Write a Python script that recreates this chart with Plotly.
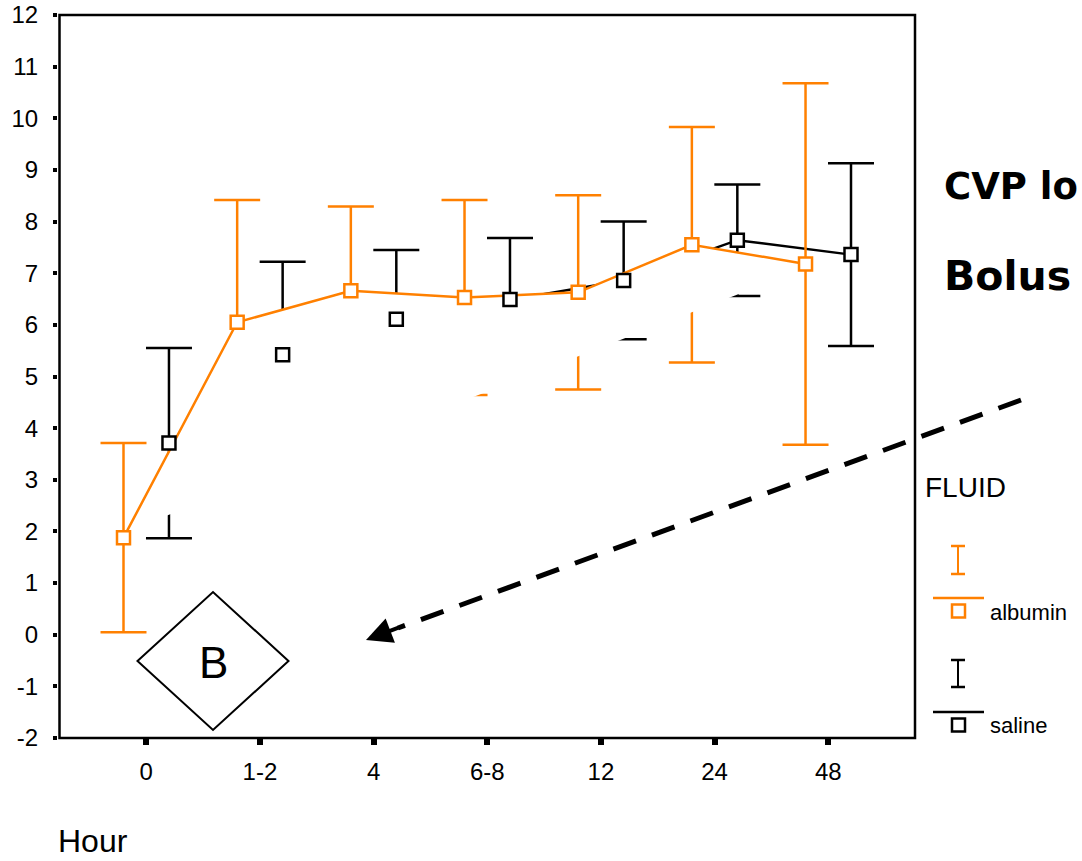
import numpy as np
import plotly.graph_objects as go

# ---------------- data ----------------
hours = ["0", "1-2", "4", "6-8", "12", "24", "48"]
albumin_mean = [1.88, 6.05, 6.66, 6.53, 6.63, 7.55, 7.18]
albumin_err = [1.83, 2.37, 1.63, 1.89, 1.88, 2.28, 3.50]
saline_mean = [3.71, 5.42, 6.11, 6.49, 6.86, 7.64, 7.36]
saline_err = [1.84, 1.80, 1.34, 1.19, 1.14, 1.08, 1.77]
y_ticks = list(range(-2, 13))
y_tick_labels = [str(v) for v in y_ticks]

# ---------------- styling / geometry ----------------
ORANGE = "#FF8000"
FONT = "Liberation Sans, Arial, sans-serif"
W, H = 1082, 861
ML, MR, MT, MB = 57, 167, 15, 123
PW = W - ML - MR
PH = H - MT - MB


def px(x):
    return (x - ML) / PW


def py(y):
    return (H - MB - y) / PH


idx = np.arange(len(hours))
x_alb = idx - 0.2
x_sal = idx + 0.2
alb = np.array(albumin_mean)

# white masking region (below the albumin line, above a straight edge)
MASK_P0 = (2.894, 4.62)
MASK_P1 = (5.192, 6.58)


def line_y(x):
    return MASK_P0[1] + (np.asarray(x) - MASK_P0[0]) * (MASK_P1[1] - MASK_P0[1]) / (MASK_P1[0] - MASK_P0[0])


d = alb - line_y(x_alb)
poly_x, poly_y = [], []
for i in range(len(x_alb)):
    if i > 0 and (d[i - 1] < 0) != (d[i] < 0):
        t = d[i - 1] / (d[i - 1] - d[i])
        xc = x_alb[i - 1] + t * (x_alb[i] - x_alb[i - 1])
        poly_x.append(float(xc))
        poly_y.append(float(line_y(xc)))
    if d[i] >= 0:
        poly_x.append(float(x_alb[i]))
        poly_y.append(float(alb[i]))
poly_x.append(poly_x[-1])
poly_y.append(float(line_y(poly_x[-1])))

fig = go.Figure()

# saline error bars + line
fig.add_trace(go.Scatter(
    x=x_sal, y=saline_mean, mode="lines",
    line=dict(color="black", width=2.5),
    error_y=dict(type="data", array=saline_err, color="black", thickness=2.5, width=23),
    hoverinfo="skip", showlegend=False))
# albumin error bars
fig.add_trace(go.Scatter(
    x=x_alb, y=albumin_mean, mode="markers",
    marker=dict(size=1, color="rgba(0,0,0,0)"),
    error_y=dict(type="data", array=albumin_err, color=ORANGE, thickness=2.5, width=23),
    hoverinfo="skip", showlegend=False))
# white mask
fig.add_trace(go.Scatter(
    x=poly_x, y=poly_y, mode="lines", fill="toself", fillcolor="white",
    line=dict(width=0, color="white"), hoverinfo="skip", showlegend=False))
# albumin line + markers
fig.add_trace(go.Scatter(
    x=x_alb, y=albumin_mean, mode="lines+markers",
    line=dict(color=ORANGE, width=2.5),
    marker=dict(symbol="square", size=13, color="white", line=dict(color=ORANGE, width=2.5)),
    hoverinfo="skip", showlegend=False))
# saline markers
fig.add_trace(go.Scatter(
    x=x_sal, y=saline_mean, mode="markers",
    marker=dict(symbol="square", size=13, color="white", line=dict(color="black", width=2.5)),
    hoverinfo="skip", showlegend=False))

shapes = []
# plot frame
shapes.append(dict(type="rect", xref="x domain", yref="y domain", x0=0, x1=1, y0=0, y1=1,
                   line=dict(color="black", width=2.5), layer="above"))
# diamond
dpath = "M {},{} L {},{} L {},{} L {},{} Z".format(
    px(137.5), py(661), px(213), py(592), px(288.5), py(661), px(213), py(730))
shapes.append(dict(type="path", xref="paper", yref="paper", path=dpath,
                   fillcolor="white", line=dict(color="black", width=2)))
# dashed arrow line
shapes.append(dict(type="line", xref="paper", yref="paper",
                   x0=px(1021), y0=py(400), x1=px(398), y1=py(628),
                   line=dict(color="black", width=5, dash="24px,17px")))


def seg(x0, y0, x1, y1, color, w=2.5):
    shapes.append(dict(type="line", xref="paper", yref="paper",
                       x0=px(x0), y0=py(y0), x1=px(x1), y1=py(y1),
                       line=dict(color=color, width=w)))


# legend symbols
for color, ytop, ybot, yline, ysq in [(ORANGE, 546, 574, 598, 611), ("black", 660, 687, 712, 725)]:
    seg(958, ytop, 958, ybot, color, 2)
    seg(951, ytop, 965, ytop, color, 2.5)
    seg(951, ybot, 965, ybot, color, 2.5)
    seg(933, yline, 984, yline, color, 2.5)
    shapes.append(dict(type="rect", xref="paper", yref="paper",
                       x0=px(952), x1=px(965), y0=py(ysq - 6.5), y1=py(ysq + 6.5),
                       fillcolor="white", line=dict(color=color, width=2.5)))

annotations = [
    dict(text="Hour", x=px(56), y=py(841), xref="paper", yref="paper", xanchor="left", yanchor="middle",
         showarrow=False, font=dict(family=FONT, size=32, color="black")),
    dict(text="<b>CVP lo</b>", x=px(942), y=py(186), xref="paper", yref="paper", xanchor="left",
         yanchor="middle", showarrow=False, font=dict(family="DejaVu Sans", size=37, color="black")),
    dict(text="<b>Bolus</b>", x=px(942), y=py(276), xref="paper", yref="paper", xanchor="left",
         yanchor="middle", showarrow=False, font=dict(family="DejaVu Sans", size=41, color="black")),
    dict(text="FLUID", x=px(923), y=py(487), xref="paper", yref="paper", xanchor="left", yanchor="middle",
         showarrow=False, font=dict(family=FONT, size=28, color="black")),
    dict(text="albumin", x=px(988), y=py(612), xref="paper", yref="paper", xanchor="left", yanchor="middle",
         showarrow=False, font=dict(family=FONT, size=22, color="black")),
    dict(text="saline", x=px(988), y=py(725), xref="paper", yref="paper", xanchor="left", yanchor="middle",
         showarrow=False, font=dict(family=FONT, size=22, color="black")),
    dict(text="B", x=px(213), y=py(662), xref="paper", yref="paper", xanchor="center", yanchor="middle",
         showarrow=False, font=dict(family=FONT, size=44, color="black")),
    # arrow head
    dict(text="", x=px(366), y=py(640), xref="paper", yref="paper", showarrow=True,
         ax=34, ay=-13, arrowhead=2, arrowsize=1.3, arrowwidth=4, arrowcolor="black"),
]

fig.update_layout(
    width=W, height=H,
    margin=dict(l=ML, r=MR, t=MT, b=MB, autoexpand=False),
    paper_bgcolor="white", plot_bgcolor="white",
    shapes=shapes, annotations=annotations,
    xaxis=dict(range=[-0.763, 6.763], domain=[2.5 / PW, 1], tickvals=list(idx), ticktext=hours,
               ticks="outside", ticklen=6, tickwidth=6, tickcolor="black", automargin=False,
               showline=False, showgrid=False, zeroline=False, ticklabelstandoff=6,
               tickfont=dict(family=FONT, size=24, color="black")),
    yaxis=dict(range=[-2, 12], anchor="free", position=0, tickvals=y_ticks, ticktext=y_tick_labels,
               automargin=False, ticks="outside", ticklen=4, tickwidth=4, tickcolor="black",
               showline=False, showgrid=False, zeroline=False, ticklabelstandoff=10,
               tickfont=dict(family=FONT, size=24, color="black")),
    showlegend=False,
)

fig.write_html("out.html", config={"displayModeBar": False},
               post_script="document.body.style.margin='0';document.body.style.overflow='hidden';")
